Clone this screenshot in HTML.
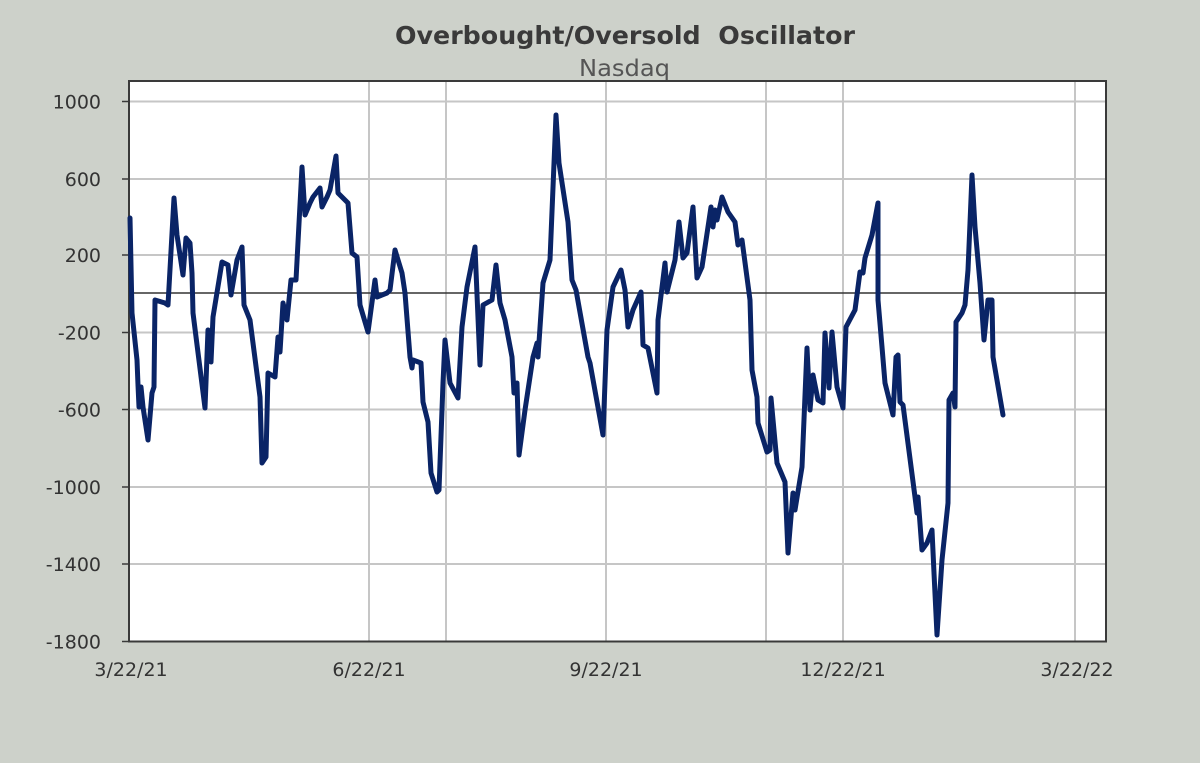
<!DOCTYPE html>
<html><head><meta charset="utf-8"><style>
html,body{margin:0;padding:0;background:#cdd1ca;}
svg{display:block;}
</style></head><body>
<svg width="1200" height="763" viewBox="0 0 1200 763" xmlns="http://www.w3.org/2000/svg">
<rect width="1200" height="763" fill="#cdd1ca"/>
<text x="395" y="44" font-family="DejaVu Sans, Liberation Sans, sans-serif" font-weight="bold" font-size="25" fill="#3a3a3a" textLength="460" lengthAdjust="spacingAndGlyphs" xml:space="preserve">Overbought/Oversold  Oscillator</text>
<text x="579" y="76" font-family="DejaVu Sans, Liberation Sans, sans-serif" font-size="23" fill="#555" textLength="91" lengthAdjust="spacingAndGlyphs">Nasdaq</text>
<rect x="129" y="81" width="977" height="560.5" fill="#ffffff"/>
<g stroke="#c6c6c6" stroke-width="2">
<line x1="129" y1="101.5" x2="1106" y2="101.5"/>
<line x1="129" y1="179" x2="1106" y2="179"/>
<line x1="129" y1="255" x2="1106" y2="255"/>
<line x1="129" y1="332.5" x2="1106" y2="332.5"/>
<line x1="129" y1="409.5" x2="1106" y2="409.5"/>
<line x1="129" y1="487" x2="1106" y2="487"/>
<line x1="129" y1="564" x2="1106" y2="564"/>
<line x1="369" y1="81" x2="369" y2="641"/>
<line x1="446" y1="81" x2="446" y2="641"/>
<line x1="606" y1="81" x2="606" y2="641"/>
<line x1="766" y1="81" x2="766" y2="641"/>
<line x1="843" y1="81" x2="843" y2="641"/>
<line x1="1075" y1="81" x2="1075" y2="641"/>
</g>
<line x1="129" y1="293" x2="1106" y2="293" stroke="#333" stroke-width="1.5"/>
<rect x="129" y="81" width="977" height="560.5" fill="none" stroke="#3a3a3a" stroke-width="2"/>
<g stroke="#3a3a3a" stroke-width="1.5">
<line x1="122" y1="101.5" x2="129" y2="101.5"/>
<line x1="122" y1="179" x2="129" y2="179"/>
<line x1="122" y1="255" x2="129" y2="255"/>
<line x1="122" y1="332.5" x2="129" y2="332.5"/>
<line x1="122" y1="409.5" x2="129" y2="409.5"/>
<line x1="122" y1="487" x2="129" y2="487"/>
<line x1="122" y1="564" x2="129" y2="564"/>
<line x1="122" y1="641.5" x2="129" y2="641.5"/>
</g>
<g font-family="DejaVu Sans, Liberation Sans, sans-serif" font-size="19" fill="#333" text-anchor="end">
<text x="101" y="108.5">1000</text>
<text x="101" y="186">600</text>
<text x="101" y="262">200</text>
<text x="101" y="339.5">-200</text>
<text x="101" y="416.5">-600</text>
<text x="101" y="494">-1000</text>
<text x="101" y="571">-1400</text>
<text x="101" y="648.5">-1800</text>
</g>
<g font-family="DejaVu Sans, Liberation Sans, sans-serif" font-size="19" fill="#333" text-anchor="middle">
<text x="131" y="676">3/22/21</text>
<text x="369" y="676">6/22/21</text>
<text x="606" y="676">9/22/21</text>
<text x="843" y="676">12/22/21</text>
<text x="1077" y="676">3/22/22</text>
</g>
<polyline fill="none" stroke="#0a2466" stroke-width="5" stroke-linejoin="round" stroke-linecap="round" points="130,218 132,313 137,360 138,385 139,407 141,387 143,407 148,440 152,393 154,387 155,300 165,303 168,305 174,198 177,235 183,275 186,238 190,243 192,273 193,313 205,408 208,330 211,362 213,317 222,262 228,265 231,295 237,260 242,247 244,305 250,320 260,397 262,463 266,457 268,373 275,377 278,337 280,352 283,303 287,320 291,280 296,280 302,167 305,215 310,203 313,197 320,188 322,207 327,197 330,190 336,156 338,193 348,203 352,253 357,257 360,305 368,332 375,280 377,297 387,293 390,290 395,250 402,273 405,293 410,357 412,368 413,360 421,363 423,402 428,422 431,473 437,492 439,490 443,383 445,340 450,383 458,398 462,327 467,287 475,247 480,365 483,305 492,300 496,265 500,303 505,320 512,357 514,393 517,383 519,455 525,410 533,357 537,343 538,357 543,283 550,260 556,115 559,163 568,222 572,280 576,290 588,357 590,363 603,435 607,330 613,287 621,270 625,290 628,327 633,310 641,292 643,345 648,348 657,393 658,320 665,263 667,292 675,260 679,222 683,258 687,253 693,207 697,278 702,267 711,207 713,227 715,210 717,220 722,197 728,212 735,222 738,245 742,240 750,300 752,370 757,397 758,423 767,452 770,450 771,398 777,463 785,482 788,553 793,493 795,510 802,467 807,348 810,410 813,375 818,400 823,403 825,333 829,388 832,332 837,387 843,408 846,327 855,310 860,272 863,273 865,258 872,235 878,203 878,300 882,347 885,383 893,415 896,357 898,355 900,402 903,405 915,497 917,513 918,497 922,550 927,543 932,530 934,573 937,635 942,560 948,503 949,400 953,393 955,407 956,322 962,313 965,305 968,270 970,223 972,175 975,227 980,283 984,340 988,300 992,300 993,357 1003,415"/>
</svg>
</body></html>
